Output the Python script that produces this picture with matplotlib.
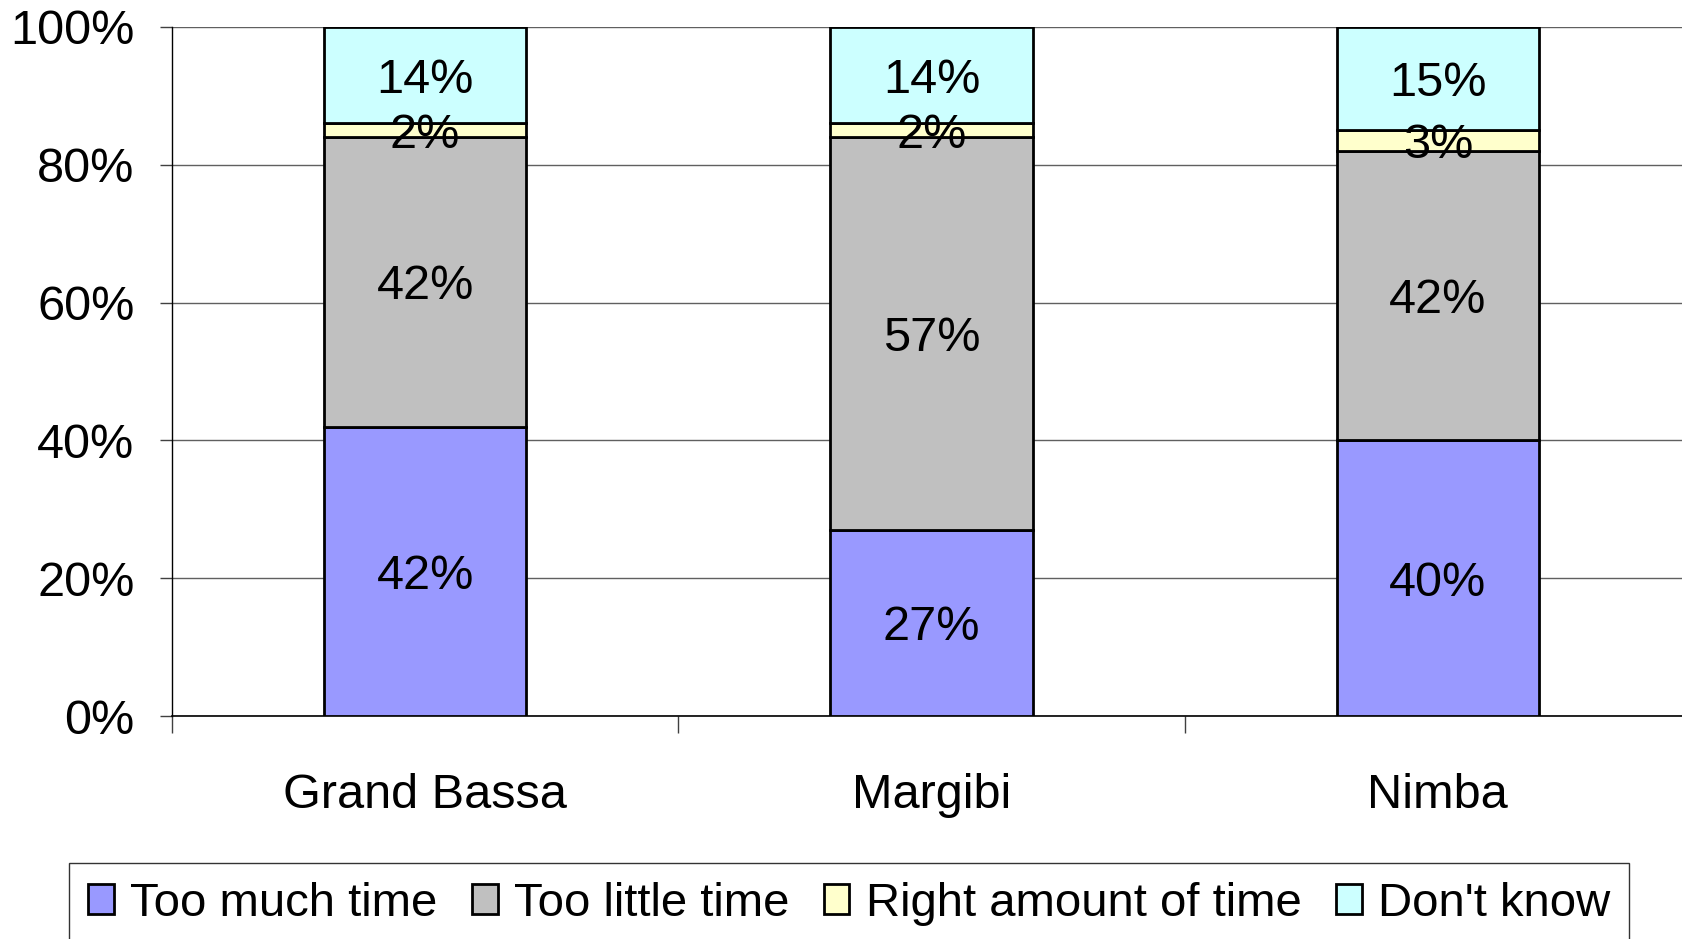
import matplotlib
matplotlib.use("Agg")
import matplotlib.pyplot as plt
import numpy as np

categories = ["Grand Bassa", "Margibi", "Nimba"]
series_names = ["Too much time", "Too little time", "Right amount of time", "Don't know"]
too_much = [42, 27, 40]
too_little = [42, 57, 42]
right_amount = [2, 2, 3]
dont_know = [14, 14, 15]
colors = ["#9999FF", "#C0C0C0", "#FFFFCC", "#CCFFFF"]
y_ticks = [0, 20, 40, 60, 80, 100]

plt.rcParams['font.family'] = ['Liberation Sans', 'DejaVu Sans']
FS = 35

W, H = 1683, 939
fig = plt.figure(figsize=(W / 100, H / 100), dpi=100)
ax = fig.add_axes([172 / W, 1 - 716 / H, (1691 - 172) / W, (716 - 27) / H])

data = [too_much, too_little, right_amount, dont_know]
x = np.arange(len(categories))
bottom = np.zeros(len(categories))
handles = []
for vals, name, col in zip(data, series_names, colors):
    vals = np.array(vals, dtype=float)
    bars = ax.bar(x, vals, width=0.4, bottom=bottom, color=col, edgecolor="black",
                  linewidth=2.0, label=name, zorder=3)
    handles.append(bars)
    for xi, b, v in zip(x, bottom, vals):
        ax.text(xi, b + v / 2, f"{int(v)}%", ha="center", va="center_baseline",
                fontsize=FS, color="black", zorder=5)
    bottom += vals

ax.set_xlim(-0.5, 2.5)
ax.set_ylim(0, 100)
ax.set_yticks(y_ticks)
ax.set_yticklabels([f"{t}%" for t in y_ticks], fontsize=FS)
ax.yaxis.grid(True, color="#606060", linewidth=1.0, zorder=0)
ax.set_axisbelow(True)

ax.set_xticks([-0.5, 0.5, 1.5, 2.5])
ax.set_xticklabels([])
ax.set_xticks(x, minor=True)
ax.set_xticklabels(categories, minor=True, fontsize=FS)
ax.tick_params(axis="x", which="major", length=12, width=1, color="#404040")
ax.tick_params(axis="x", which="minor", length=0, pad=41)
ax.tick_params(axis="y", which="major", length=9, width=1, color="#404040", pad=18)

for s in ["top", "right"]:
    ax.spines[s].set_visible(False)
ax.spines["left"].set_color("black")
ax.spines["left"].set_linewidth(1.0)
ax.spines["bottom"].set_color("black")
ax.spines["bottom"].set_linewidth(1.2)

leg = fig.legend(handles=handles, labels=series_names, loc="upper left",
                 bbox_to_anchor=(69 / W, 1 - 863 / H), ncol=4, fontsize=34,
                 frameon=True, fancybox=False, edgecolor="black",
                 handlelength=0.55, handleheight=0.6, handletextpad=0.35,
                 columnspacing=0.72, borderpad=0.4, borderaxespad=0)
leg.get_frame().set_linewidth(1.0)

fig.savefig("out.png", dpi=100)
